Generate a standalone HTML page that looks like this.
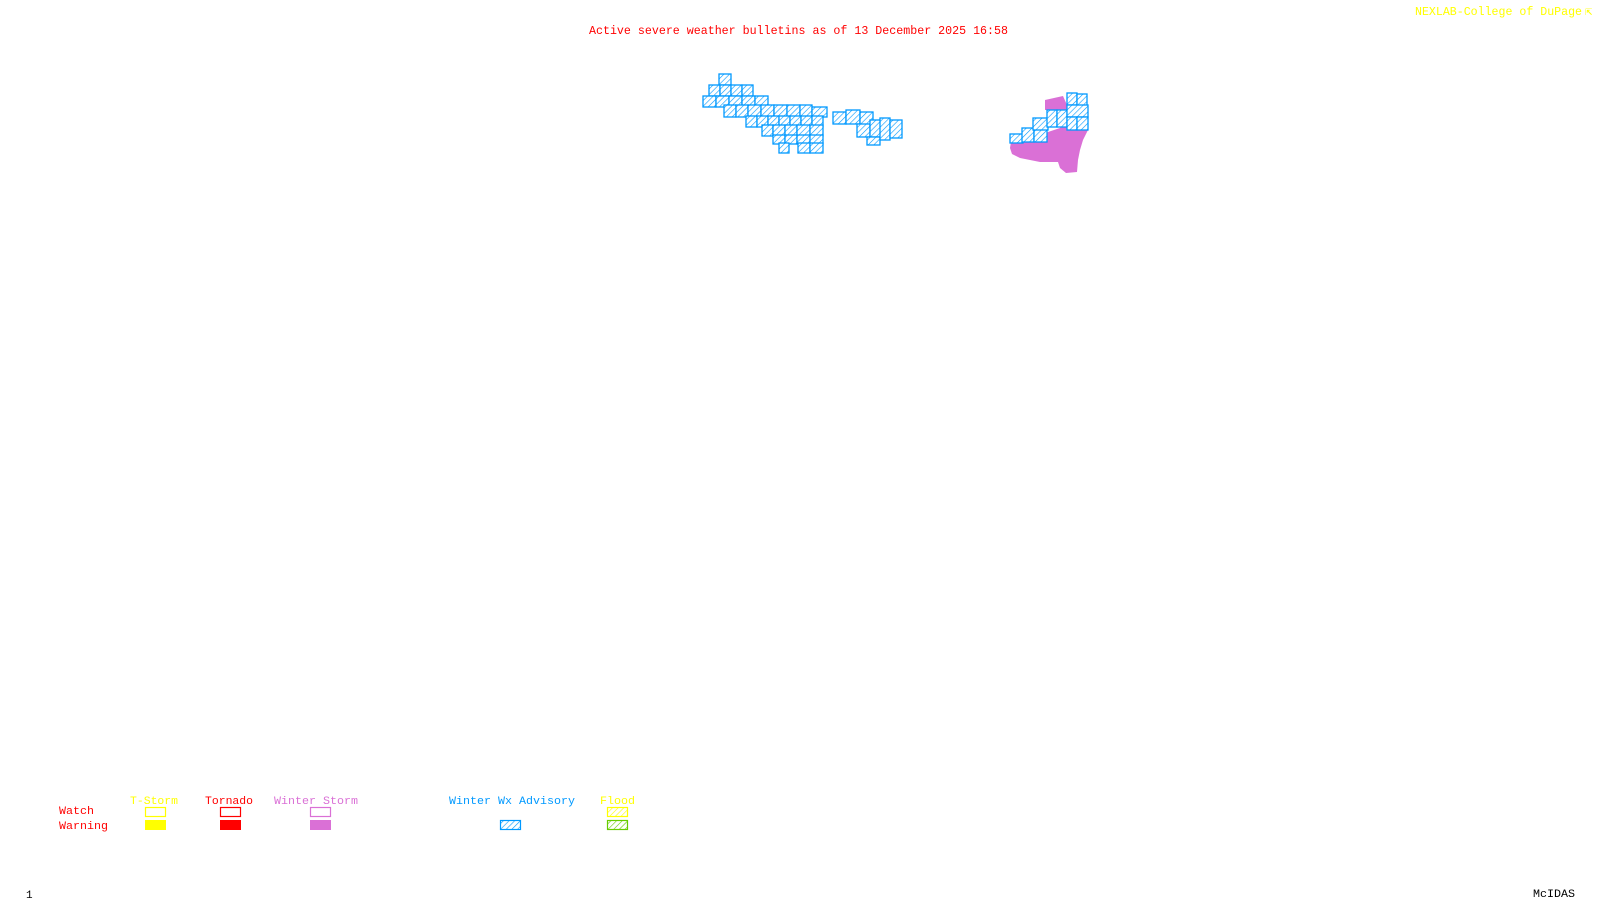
<!DOCTYPE html>
<html><head><meta charset="utf-8"><style>
html,body{margin:0;padding:0;background:#fff;}
svg{display:block;}
text{font-family:"Liberation Mono","DejaVu Sans Mono",monospace;}
</style></head><body>
<svg width="1600" height="900" viewBox="0 0 1600 900" xmlns="http://www.w3.org/2000/svg">
<defs>
<pattern id="hb" width="4" height="4" patternUnits="userSpaceOnUse" patternTransform="rotate(45)">
<rect width="4" height="4" fill="#fff"/><line x1="0" y1="0" x2="0" y2="4" stroke="#0099ff" stroke-width="1.2"/></pattern>
<pattern id="hy" width="4" height="4" patternUnits="userSpaceOnUse" patternTransform="rotate(45)">
<rect width="4" height="4" fill="#fff"/><line x1="0" y1="0" x2="0" y2="4" stroke="#ffff00" stroke-width="1.2"/></pattern>
<pattern id="hg" width="4" height="4" patternUnits="userSpaceOnUse" patternTransform="rotate(45)">
<rect width="4" height="4" fill="#fff"/><line x1="0" y1="0" x2="0" y2="4" stroke="#66cc00" stroke-width="1.2"/></pattern>
</defs>

<text x="589" y="34" font-size="12" fill="#ff0000" textLength="419" lengthAdjust="spacingAndGlyphs">Active severe weather bulletins as of 13 December 2025 16:58</text>
<text x="1415" y="15" font-size="12" fill="#ffff00" textLength="167" lengthAdjust="spacingAndGlyphs">NEXLAB-College of DuPage</text>
<text x="1585" y="15" font-size="12" fill="#ffff00">⇱</text>

<!-- western cluster -->
<g fill="url(#hb)" stroke="#0099ff" stroke-width="1.3">
<rect x="719" y="74" width="12" height="11"/>
<rect x="709" y="85" width="11" height="11"/><rect x="720" y="85" width="11" height="11"/><rect x="731" y="85" width="11" height="11"/><rect x="742" y="85" width="11" height="11"/>
<rect x="703" y="96" width="13" height="11"/><rect x="716" y="96" width="13" height="11"/><rect x="729" y="96" width="13" height="11"/><rect x="742" y="96" width="13" height="11"/><rect x="755" y="96" width="13" height="11"/>
<rect x="724" y="105" width="12" height="12"/><rect x="736" y="105" width="12" height="12"/><rect x="748" y="105" width="13" height="12"/><rect x="761" y="105" width="13" height="12"/><rect x="774" y="105" width="13" height="12"/><rect x="787" y="105" width="13" height="12"/><rect x="800" y="105" width="12" height="12"/><rect x="812" y="107" width="15" height="10"/>
<rect x="746" y="116" width="11" height="11"/><rect x="757" y="116" width="11" height="11"/><rect x="768" y="116" width="11" height="11"/><rect x="779" y="116" width="11" height="11"/><rect x="790" y="116" width="11" height="11"/><rect x="801" y="116" width="11" height="11"/><rect x="812" y="116" width="11" height="11"/>
<rect x="762" y="125" width="11" height="11"/><rect x="773" y="125" width="12" height="11"/><rect x="785" y="125" width="12" height="11"/><rect x="797" y="125" width="13" height="11"/><rect x="810" y="125" width="13" height="11"/>
<rect x="773" y="135" width="12" height="9"/><rect x="785" y="135" width="12" height="9"/><rect x="797" y="135" width="13" height="9"/><rect x="810" y="135" width="13" height="9"/>
<rect x="779" y="143" width="10" height="10"/><rect x="798" y="143" width="12" height="10"/><rect x="810" y="143" width="13" height="10"/>
<rect x="833" y="112" width="13" height="12"/><rect x="846" y="110" width="14" height="14"/><rect x="860" y="112" width="13" height="13"/>
<rect x="857" y="124" width="13" height="13"/><rect x="870" y="120" width="17" height="17"/>
<rect x="867" y="137" width="13" height="8"/>
<rect x="880" y="118" width="10" height="22"/><rect x="890" y="120" width="12" height="18"/>
</g>

<!-- eastern cluster -->
<polygon fill="#da70d6" points="1045,100 1063,96 1067,105 1082,118 1088,130 1083,140 1080,150 1078,160 1077,172 1066,173 1060,168 1058,162 1040,162 1030,160 1020,158 1012,154 1010,148 1011,142 1038,142 1048,132 1060,128 1063,110 1045,110"/>
<g fill="url(#hb)" stroke="#0099ff" stroke-width="1.3">
<rect x="1010" y="134" width="13" height="9"/>
<rect x="1022" y="128" width="12" height="14"/><rect x="1034" y="128" width="13" height="14"/>
<rect x="1033" y="118" width="15" height="12"/>
<rect x="1047" y="110" width="10" height="17"/><rect x="1057" y="110" width="10" height="17"/>
<rect x="1067" y="93" width="10" height="12"/><rect x="1077" y="94" width="10" height="12"/>
<rect x="1067" y="105" width="21" height="12"/>
<rect x="1067" y="117" width="10" height="13"/><rect x="1077" y="117" width="11" height="13"/>
</g>

<!-- legend -->
<g font-size="11">
<text x="130" y="804" fill="#ffff00" textLength="48" lengthAdjust="spacingAndGlyphs">T-Storm</text>
<text x="205" y="804" fill="#ff0000" textLength="48" lengthAdjust="spacingAndGlyphs">Tornado</text>
<text x="274" y="804" fill="#da70d6" textLength="84" lengthAdjust="spacingAndGlyphs">Winter Storm</text>
<text x="449" y="804" fill="#0099ff" textLength="126" lengthAdjust="spacingAndGlyphs">Winter Wx Advisory</text>
<text x="600" y="804" fill="#ffff00" textLength="35" lengthAdjust="spacingAndGlyphs">Flood</text>
<text x="59" y="814" fill="#ff0000" textLength="35" lengthAdjust="spacingAndGlyphs">Watch</text>
<text x="59" y="829" fill="#ff0000" textLength="49" lengthAdjust="spacingAndGlyphs">Warning</text>
</g>
<rect x="145.5" y="807.5" width="20" height="9" fill="none" stroke="#ffff00" stroke-width="1.2"/>
<rect x="145" y="820" width="21" height="10" fill="#ffff00"/>
<rect x="220.5" y="807.5" width="20" height="9" fill="none" stroke="#ff0000" stroke-width="1.2"/>
<rect x="220" y="820" width="21" height="10" fill="#ff0000"/>
<rect x="310.5" y="807.5" width="20" height="9" fill="none" stroke="#da70d6" stroke-width="1.2"/>
<rect x="310" y="820" width="21" height="10" fill="#da70d6"/>
<rect x="500.5" y="820.5" width="20" height="9" fill="url(#hb)" stroke="#0099ff" stroke-width="1.2"/>
<rect x="607.5" y="807.5" width="20" height="9" fill="url(#hy)" stroke="#ffff00" stroke-width="1.2"/>
<rect x="607.5" y="820.5" width="20" height="9" fill="url(#hg)" stroke="#66cc00" stroke-width="1.2"/>

<text x="26" y="898" font-size="11" fill="#000">1</text>
<text x="1533" y="897" font-size="11" fill="#000" textLength="42" lengthAdjust="spacingAndGlyphs">McIDAS</text>
</svg>
</body></html>
